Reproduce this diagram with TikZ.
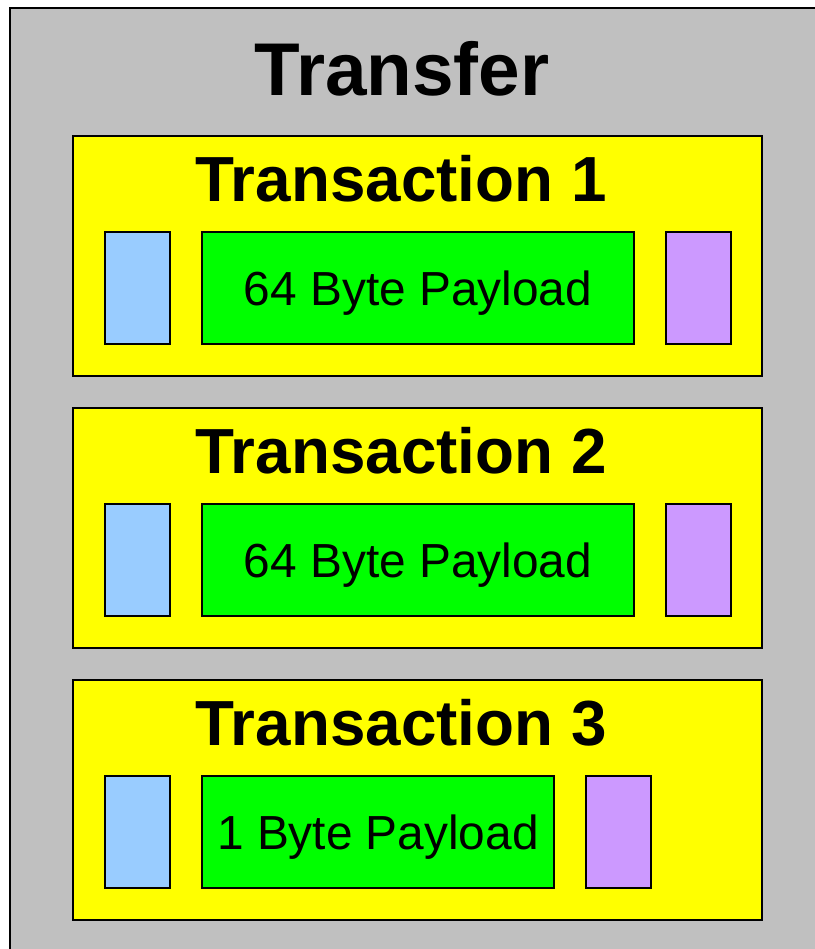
\documentclass[tikz,border=0pt]{standalone}
\usepackage{fontspec}
\setmainfont{Liberation Sans}
\usetikzlibrary{positioning}

\definecolor{xfergray}{HTML}{C0C0C0}
\definecolor{txyellow}{HTML}{FFFF00}
\definecolor{setupblue}{HTML}{99CCFF}
\definecolor{datagreen}{HTML}{00FF00}
\definecolor{hspurple}{HTML}{CC99FF}

\begin{document}
\begin{tikzpicture}[x=1bp,y=-1bp,line width=1.8bp,
  box/.style={draw,inner sep=0pt,outer sep=0pt,anchor=north west},
  txbox/.style={box,fill=txyellow,minimum width=689bp,minimum height=240bp},
  tokbox/.style={box,minimum width=65bp,minimum height=112bp},
  paybox/.style={box,fill=datagreen,minimum height=112bp},
  bigtitle/.style={anchor=base,font=\fontsize{75}{80}\selectfont\bfseries},
  txtitle/.style={anchor=base,font=\fontsize{64}{70}\selectfont\bfseries},
  paytext/.style={anchor=base,font=\fontsize{48}{54}\selectfont}]
  \useasboundingbox (0,0) rectangle (815,949);
  \clip (0,0) rectangle (815,949);
  % Transfer (aussen, rechts und unten abgeschnitten)
  \node[box,fill=xfergray,minimum width=830bp,minimum height=960bp] (xfer) at (10,8) {};
  \node[bigtitle] (xferlabel) at (402,95) {Transfer};
  % Transaktionen
  \foreach \i/\y in {1/136,2/408,3/680} {
    \node[txbox] (tx\i) at (73,\y) {};
    \node[txtitle] (txlabel\i) at (401,\y+65) {Transaction \i};
    \node[tokbox,fill=setupblue] (setup\i) at (105,\y+96) {};
  }
  % Payload + Handshake
  \node[paybox,minimum width=432bp] (pay1) at (202,232) {};
  \node[paytext] (paylabel1) at (418,305) {64 Byte Payload};
  \node[tokbox,fill=hspurple] (hs1) at (666,232) {};
  \node[paybox,minimum width=432bp] (pay2) at (202,504) {};
  \node[paytext] (paylabel2) at (418,577) {64 Byte Payload};
  \node[tokbox,fill=hspurple] (hs2) at (666,504) {};
  \node[paybox,minimum width=352bp] (pay3) at (202,776) {};
  \node[paytext] (paylabel3) at (378,849) {1 Byte Payload};
  \node[tokbox,fill=hspurple] (hs3) at (586,776) {};
\end{tikzpicture}
\end{document}
